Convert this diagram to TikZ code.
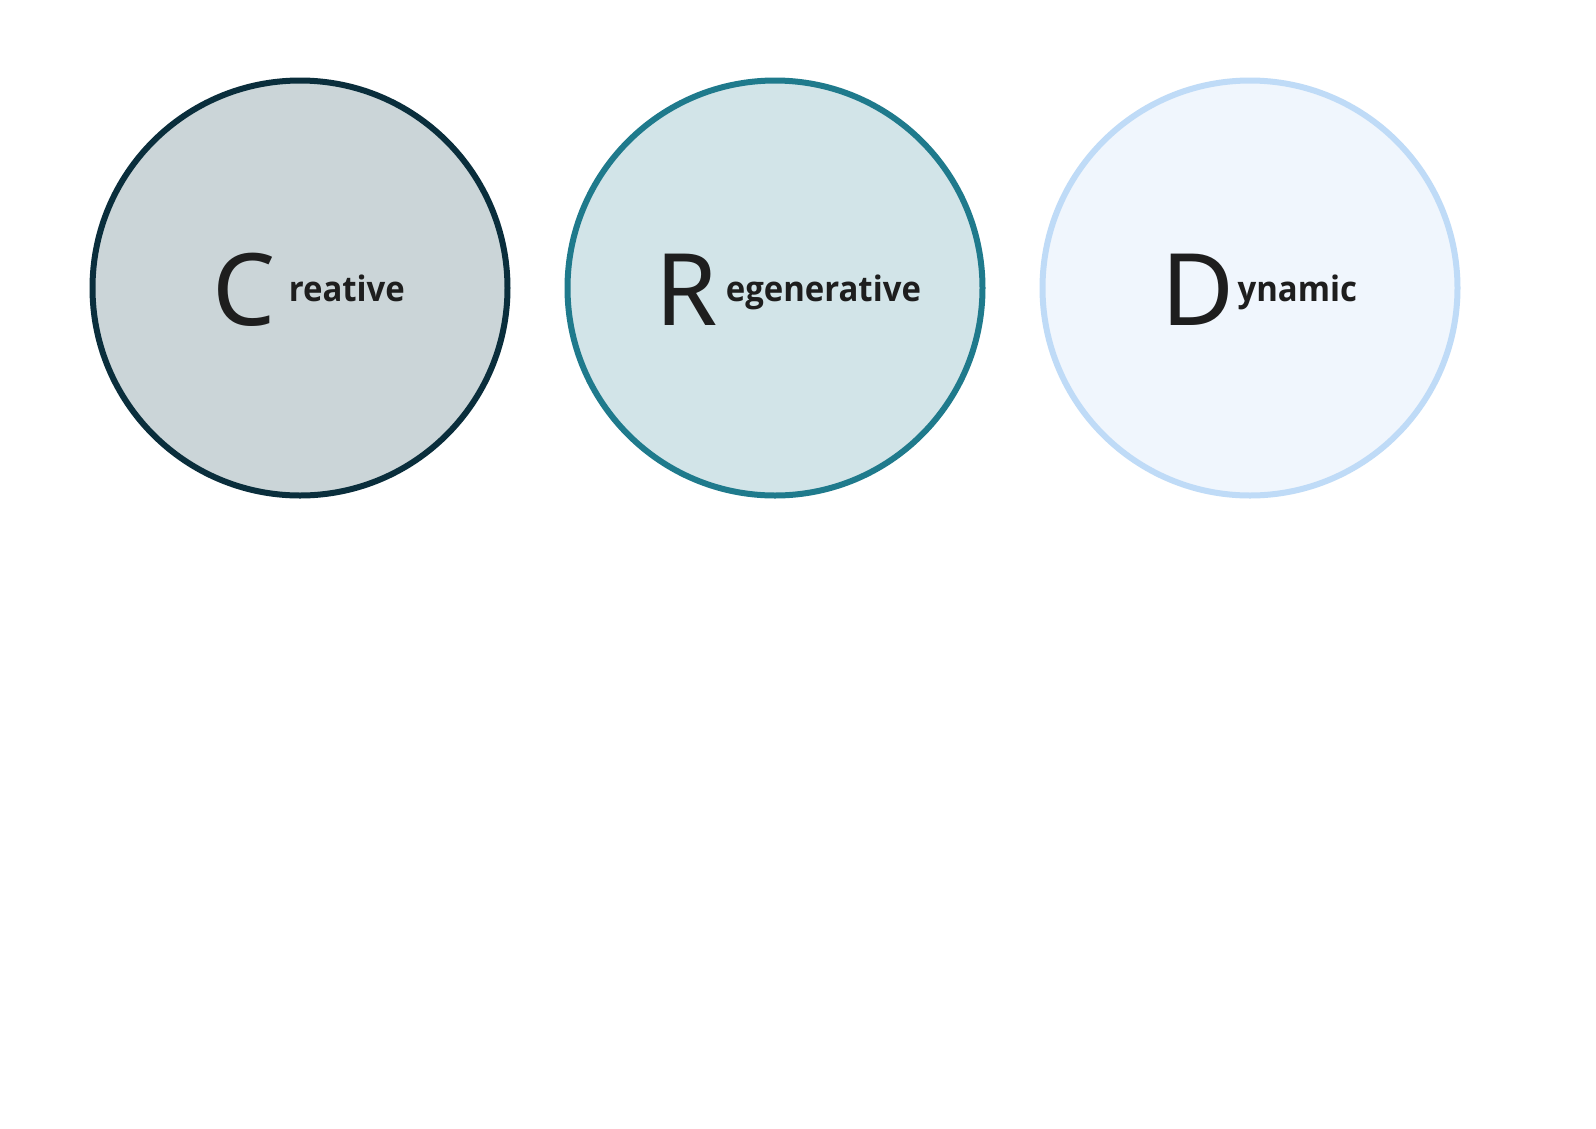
\documentclass[tikz,border=0pt]{standalone}
\usepackage{fontspec}
\setmainfont{Noto Sans}
\IfFontExistsTF{Noto Sans Bold}{\newfontfamily\wordfont{Noto Sans Bold}[FakeStretch=0.94]}{\IfFontExistsTF{Open Sans Bold}{\newfontfamily\wordfont{Open Sans Bold}[FakeStretch=0.94]}{\newfontfamily\wordfont{Noto Sans}[FakeBold=2]}}
\usetikzlibrary{calc}
\definecolor{ringA}{HTML}{0A2E3C}
\definecolor{fillA}{HTML}{CBD5D8}
\definecolor{ringB}{HTML}{1F7A8C}
\definecolor{fillB}{HTML}{D2E4E8}
\definecolor{ringC}{HTML}{BFDBF7}
\definecolor{fillC}{HTML}{F0F6FD}
\definecolor{ink}{HTML}{1E1E1E}
\tikzset{
  ring/.style={circle, inner sep=0pt, minimum size=415pt, line width=6pt},
  bigletter/.style={inner sep=0pt, anchor=base west, text=ink, font=\fontsize{100}{100}\selectfont},
  restword/.style={inner sep=0pt, anchor=base west, text=ink, font=\fontsize{35}{35}\wordfont}
}
\begin{document}
\begin{tikzpicture}[x=1pt,y=-1pt]
\useasboundingbox (0,0) rectangle (1596,1128);
\fill[white] (0,0) rectangle (1596,1128);
\node[ring, draw=ringA, fill=fillA] (c1) at (300,288) {};
\node[ring, draw=ringB, fill=fillB] (c2) at (775,288) {};
\node[ring, draw=ringC, fill=fillC] (c3) at (1250,288) {};
\node[bigletter] (L1) at (212,325) {C};
\node[restword] (W1) at ($(L1.base east)+(13,-24)$) {reative};
\node[bigletter] (L2) at (655,325) {R};
\node[restword] (W2) at ($(L2.base east)+(8,-24)$) {egenerative};
\node[bigletter] (L3) at (1161,325) {D};
\node[restword] (W3) at ($(L3.base east)+(3,-24)$) {ynamic};
\end{tikzpicture}
\end{document}
